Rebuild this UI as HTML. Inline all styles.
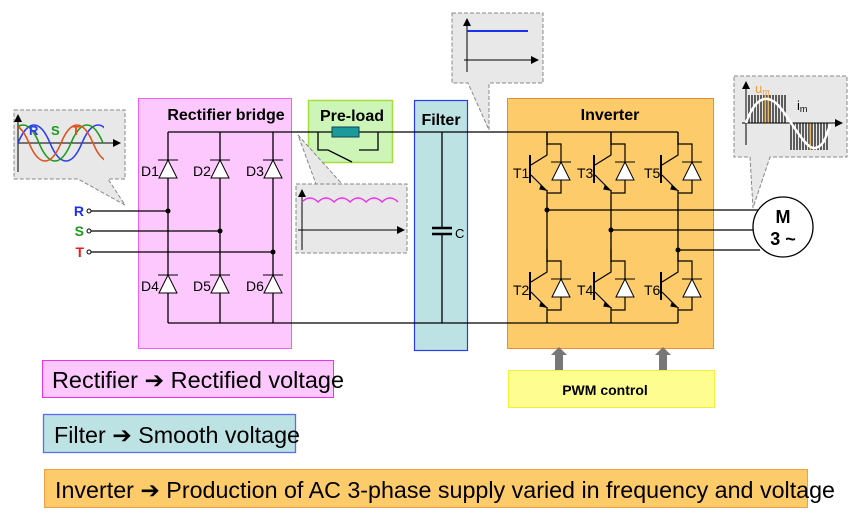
<!DOCTYPE html>
<html><head><meta charset="utf-8"><style>
body{margin:0;background:#fff}
svg{display:block;font-family:"Liberation Sans",sans-serif}
</style></head><body>
<svg width="856" height="514" viewBox="0 0 856 514" xmlns="http://www.w3.org/2000/svg">
<defs>
<marker id="ar" markerWidth="8" markerHeight="8" refX="7" refY="4" orient="auto" markerUnits="userSpaceOnUse"><path d="M0,0 L8,4 L0,8Z" fill="#000"/></marker>
<clipPath id="cw"><rect x="18" y="110" width="86" height="70"/></clipPath>
<g id="diode"><path d="M-9,18 L0,0 L9,18Z" fill="#fff" stroke="#000" stroke-width="1"/><line x1="-10" y1="0" x2="10" y2="0" stroke="#000" stroke-width="1"/></g>
<g id="igbt" stroke="#000" stroke-width="1.2" fill="none">
<path d="M0,0 V23 L-16,33"/>
<line x1="-17" y1="23" x2="-17" y2="51" stroke-width="2"/>
<path d="M-16,43 L-1,58" />
<path d="M-6,54 L-1,58 L-7,57Z" fill="#000"/>
<path d="M0,58 V63"/>
<path d="M0,12 H14 V61 H0"/>
<use href="#diode" x="14" y="30"/>
</g>
</defs>

<rect x="138.5" y="98.5" width="153" height="250" fill="#fdc8fd" stroke="#f060f0"/>
<rect x="308.5" y="100.5" width="84" height="62" fill="#cdf5b8" stroke="#a5dd3a" stroke-width="1.5"/>
<rect x="414.5" y="100.5" width="53" height="250" fill="#bde2e4" stroke="#2a3cf0" stroke-width="1.2"/>
<rect x="507.5" y="98.5" width="206" height="250" fill="#fecb6a" stroke="#f08a30"/>
<rect x="508.5" y="370.5" width="206" height="37" fill="#fefe90" stroke="#f0f040"/>

<text x="226" y="120" font-size="16" font-weight="bold" text-anchor="middle">Rectifier bridge</text>
<text x="352" y="121" font-size="16" font-weight="bold" text-anchor="middle">Pre-load</text>
<text x="441" y="125" font-size="16" font-weight="bold" text-anchor="middle">Filter</text>
<text x="610" y="120" font-size="16" font-weight="bold" text-anchor="middle">Inverter</text>
<text x="605" y="395" font-size="14" font-weight="bold" text-anchor="middle">PWM control</text>

<g stroke="#000" stroke-width="1.3" fill="none">
<path d="M168,132 H333 M358,132 H678"/>
<path d="M168,323 H678"/>
<path d="M168,132 V323 M220,132 V323 M273,132 V323"/>
<path d="M89,211 H168 M89,231 H220 M89,252 H273"/>
<path d="M442,132 V228 M442,234 V323"/>
<path d="M432,228 H452 M432,234 H452" stroke-width="2.5"/>
<path d="M547,132 V145 M611,132 V145 M678,132 V145"/>
<path d="M547,195 V262 M611,195 V262 M678,195 V262"/>
<path d="M547,312 V323 M611,312 V323 M678,312 V323"/>
<path d="M547,210 H760 M611,230 H753 M678,250 H760"/>
<path d="M318,132 V150 H328 L352,162 M359,150 H378 V132"/>
</g>
<rect x="332" y="127" width="27" height="10" fill="#1a9a9a" stroke="#145" stroke-width="1"/>
<g fill="#000"><circle cx="168" cy="211" r="2.5"/><circle cx="220" cy="231" r="2.5"/><circle cx="273" cy="252" r="2.5"/>
<circle cx="547" cy="210" r="2.5"/><circle cx="611" cy="230" r="2.5"/><circle cx="678" cy="250" r="2.5"/></g>
<g fill="#fff" stroke="#000"><circle cx="89" cy="211" r="2"/><circle cx="89" cy="231" r="2"/><circle cx="89" cy="252" r="2"/></g>
<text x="84" y="216" font-size="14" font-weight="bold" fill="#1a30f0" text-anchor="end">R</text>
<text x="84" y="236" font-size="14" font-weight="bold" fill="#1a9a1a" text-anchor="end">S</text>
<text x="84" y="257" font-size="14" font-weight="bold" fill="#f01a1a" text-anchor="end">T</text>
<text x="455" y="238" font-size="13">C</text>

<use href="#diode" x="168" y="160"/><use href="#diode" x="220" y="160"/><use href="#diode" x="273" y="160"/>
<use href="#diode" x="168" y="275"/><use href="#diode" x="220" y="275"/><use href="#diode" x="273" y="275"/>
<g font-size="14"><text x="141" y="176">D1</text><text x="193" y="176">D2</text><text x="246" y="176">D3</text>
<text x="141" y="291">D4</text><text x="193" y="291">D5</text><text x="246" y="291">D6</text>
<text x="513" y="178">T1</text><text x="577" y="178">T3</text><text x="644" y="178">T5</text>
<text x="513" y="295">T2</text><text x="577" y="295">T4</text><text x="644" y="295">T6</text></g>

<use href="#igbt" x="547" y="132"/><use href="#igbt" x="611" y="132"/><use href="#igbt" x="678" y="132"/>
<use href="#igbt" x="547" y="249"/><use href="#igbt" x="611" y="249"/><use href="#igbt" x="678" y="249"/>

<circle cx="783" cy="227" r="30" fill="#fff" stroke="#000" stroke-width="1.3"/>
<text x="783" y="223" font-size="18" font-weight="bold" text-anchor="middle">M</text>
<text x="783" y="245" font-size="18" font-weight="bold" text-anchor="middle">3 ~</text>

<g fill="#777"><path d="M555,370 V355 H551 L559,347 L567,355 H563 V370Z"/><path d="M659,370 V355 H655 L663,347 L671,355 H667 V370Z"/></g>

<g fill="#e8e8e8" stroke="#888" stroke-dasharray="4,2">
<path d="M14,110 H125 V179 H108 L125,205 L78,179 H14Z"/>
<path d="M296,184 H407 V253 H296 V184 H316 L298,135 L342,184"/>
<path d="M452,13 H543 V83 H489 L489,130 L468,83 H452Z"/>
<path d="M734,76 H847 V157 H770 L753,208 L750,157 H734Z"/>
</g>
<line x1="18" y1="143" x2="120" y2="143" stroke="#000" stroke-width="1" marker-end="url(#ar)"/>
<line x1="18" y1="172" x2="18" y2="115" stroke="#000" stroke-width="1" marker-end="url(#ar)"/>
<g fill="none" stroke-width="1.6" clip-path="url(#cw)">
<path d="M18,143 c10,-24 22,-24 32,0 s22,24 32,0 s22,-24 32,0" stroke="#2a3cf0"/>
<path d="M7,143 c10,-24 22,-24 32,0 s22,24 32,0 s22,-24 32,0" stroke="#1a9a1a" transform="translate(0,0)"/>
<path d="M-3,143 c10,-24 22,-24 32,0 s22,24 32,0 s22,-24 32,0 s22,24 32,0" stroke="#e0501a"/>
</g>
<g font-size="13" font-weight="bold"><text x="29" y="135" fill="#2a3cf0">R</text><text x="51" y="135" fill="#1a9a1a">S</text><text x="72" y="135" fill="#e0501a">T</text></g>
<line x1="302" y1="250" x2="302" y2="190" stroke="#000" marker-end="url(#ar)"/>
<line x1="298" y1="230" x2="404" y2="230" stroke="#000" marker-end="url(#ar)"/>
<path d="M302,202 q8,-8 16,0 q8,-8 16,0 q8,-8 16,0 q8,-8 16,0 q8,-8 16,0 q8,-8 16,0" fill="none" stroke="#f030f0" stroke-width="1.5"/>
<line x1="467" y1="72" x2="467" y2="19" stroke="#000" marker-end="url(#ar)"/>
<line x1="464" y1="60" x2="538" y2="60" stroke="#000" marker-end="url(#ar)"/>
<line x1="467" y1="31" x2="528" y2="31" stroke="#1a30f0" stroke-width="2"/>
<g stroke="#222" stroke-width="1.4">
<path d="M749,95 V123 M752,95 V123 M755,95 V123 M758,95 V123 M761,95 V123 M764,95 V123 M767,95 V123 M770,95 V123 M773,95 V123 M776,95 V123 M779,95 V123 M782,95 V123 M785,95 V123"/>
<path d="M791,123 V150 M794,123 V150 M797,123 V150 M800,123 V150 M803,123 V150 M806,123 V150 M809,123 V150 M812,123 V150 M815,123 V150 M818,123 V150 M821,123 V150 M824,123 V150 M827,123 V150"/>
</g>
<path d="M765,95 V123 M768,95V123 M810,123 V150" stroke="#e8a030" stroke-width="1.4"/>
<line x1="746" y1="145" x2="746" y2="82" stroke="#000" marker-end="url(#ar)"/>
<line x1="742" y1="123" x2="842" y2="123" stroke="#000" marker-end="url(#ar)"/>
<path d="M746,123 C756,95 768,95 778,105 S805,150 815,148 S826,135 830,125" fill="none" stroke="#fff" stroke-width="2.5"/>
<text x="755" y="93" font-size="13" fill="#f0a040">u<tspan font-size="9" dy="2">m</tspan></text>
<text x="797" y="110" font-size="13">i<tspan font-size="9" dy="2">m</tspan></text>

<rect x="42.5" y="360.5" width="291" height="37" fill="#fdc8fd" stroke="#f030f0"/>
<rect x="43.5" y="414.5" width="252" height="38" fill="#bde2e4" stroke="#5a6cf0" stroke-width="1.3"/>
<rect x="44.5" y="469.5" width="763" height="38" fill="#fecb6a" stroke="#f0a040"/>
<g font-size="23"><text x="52" y="388" textLength="292" lengthAdjust="spacingAndGlyphs">Rectifier ➔ Rectified voltage</text>
<text x="54" y="443" textLength="246" lengthAdjust="spacingAndGlyphs">Filter ➔ Smooth voltage</text>
<text x="55" y="498" textLength="780" lengthAdjust="spacingAndGlyphs">Inverter ➔ Production of AC 3-phase supply varied in frequency and voltage</text></g>
</svg>
</body></html>
